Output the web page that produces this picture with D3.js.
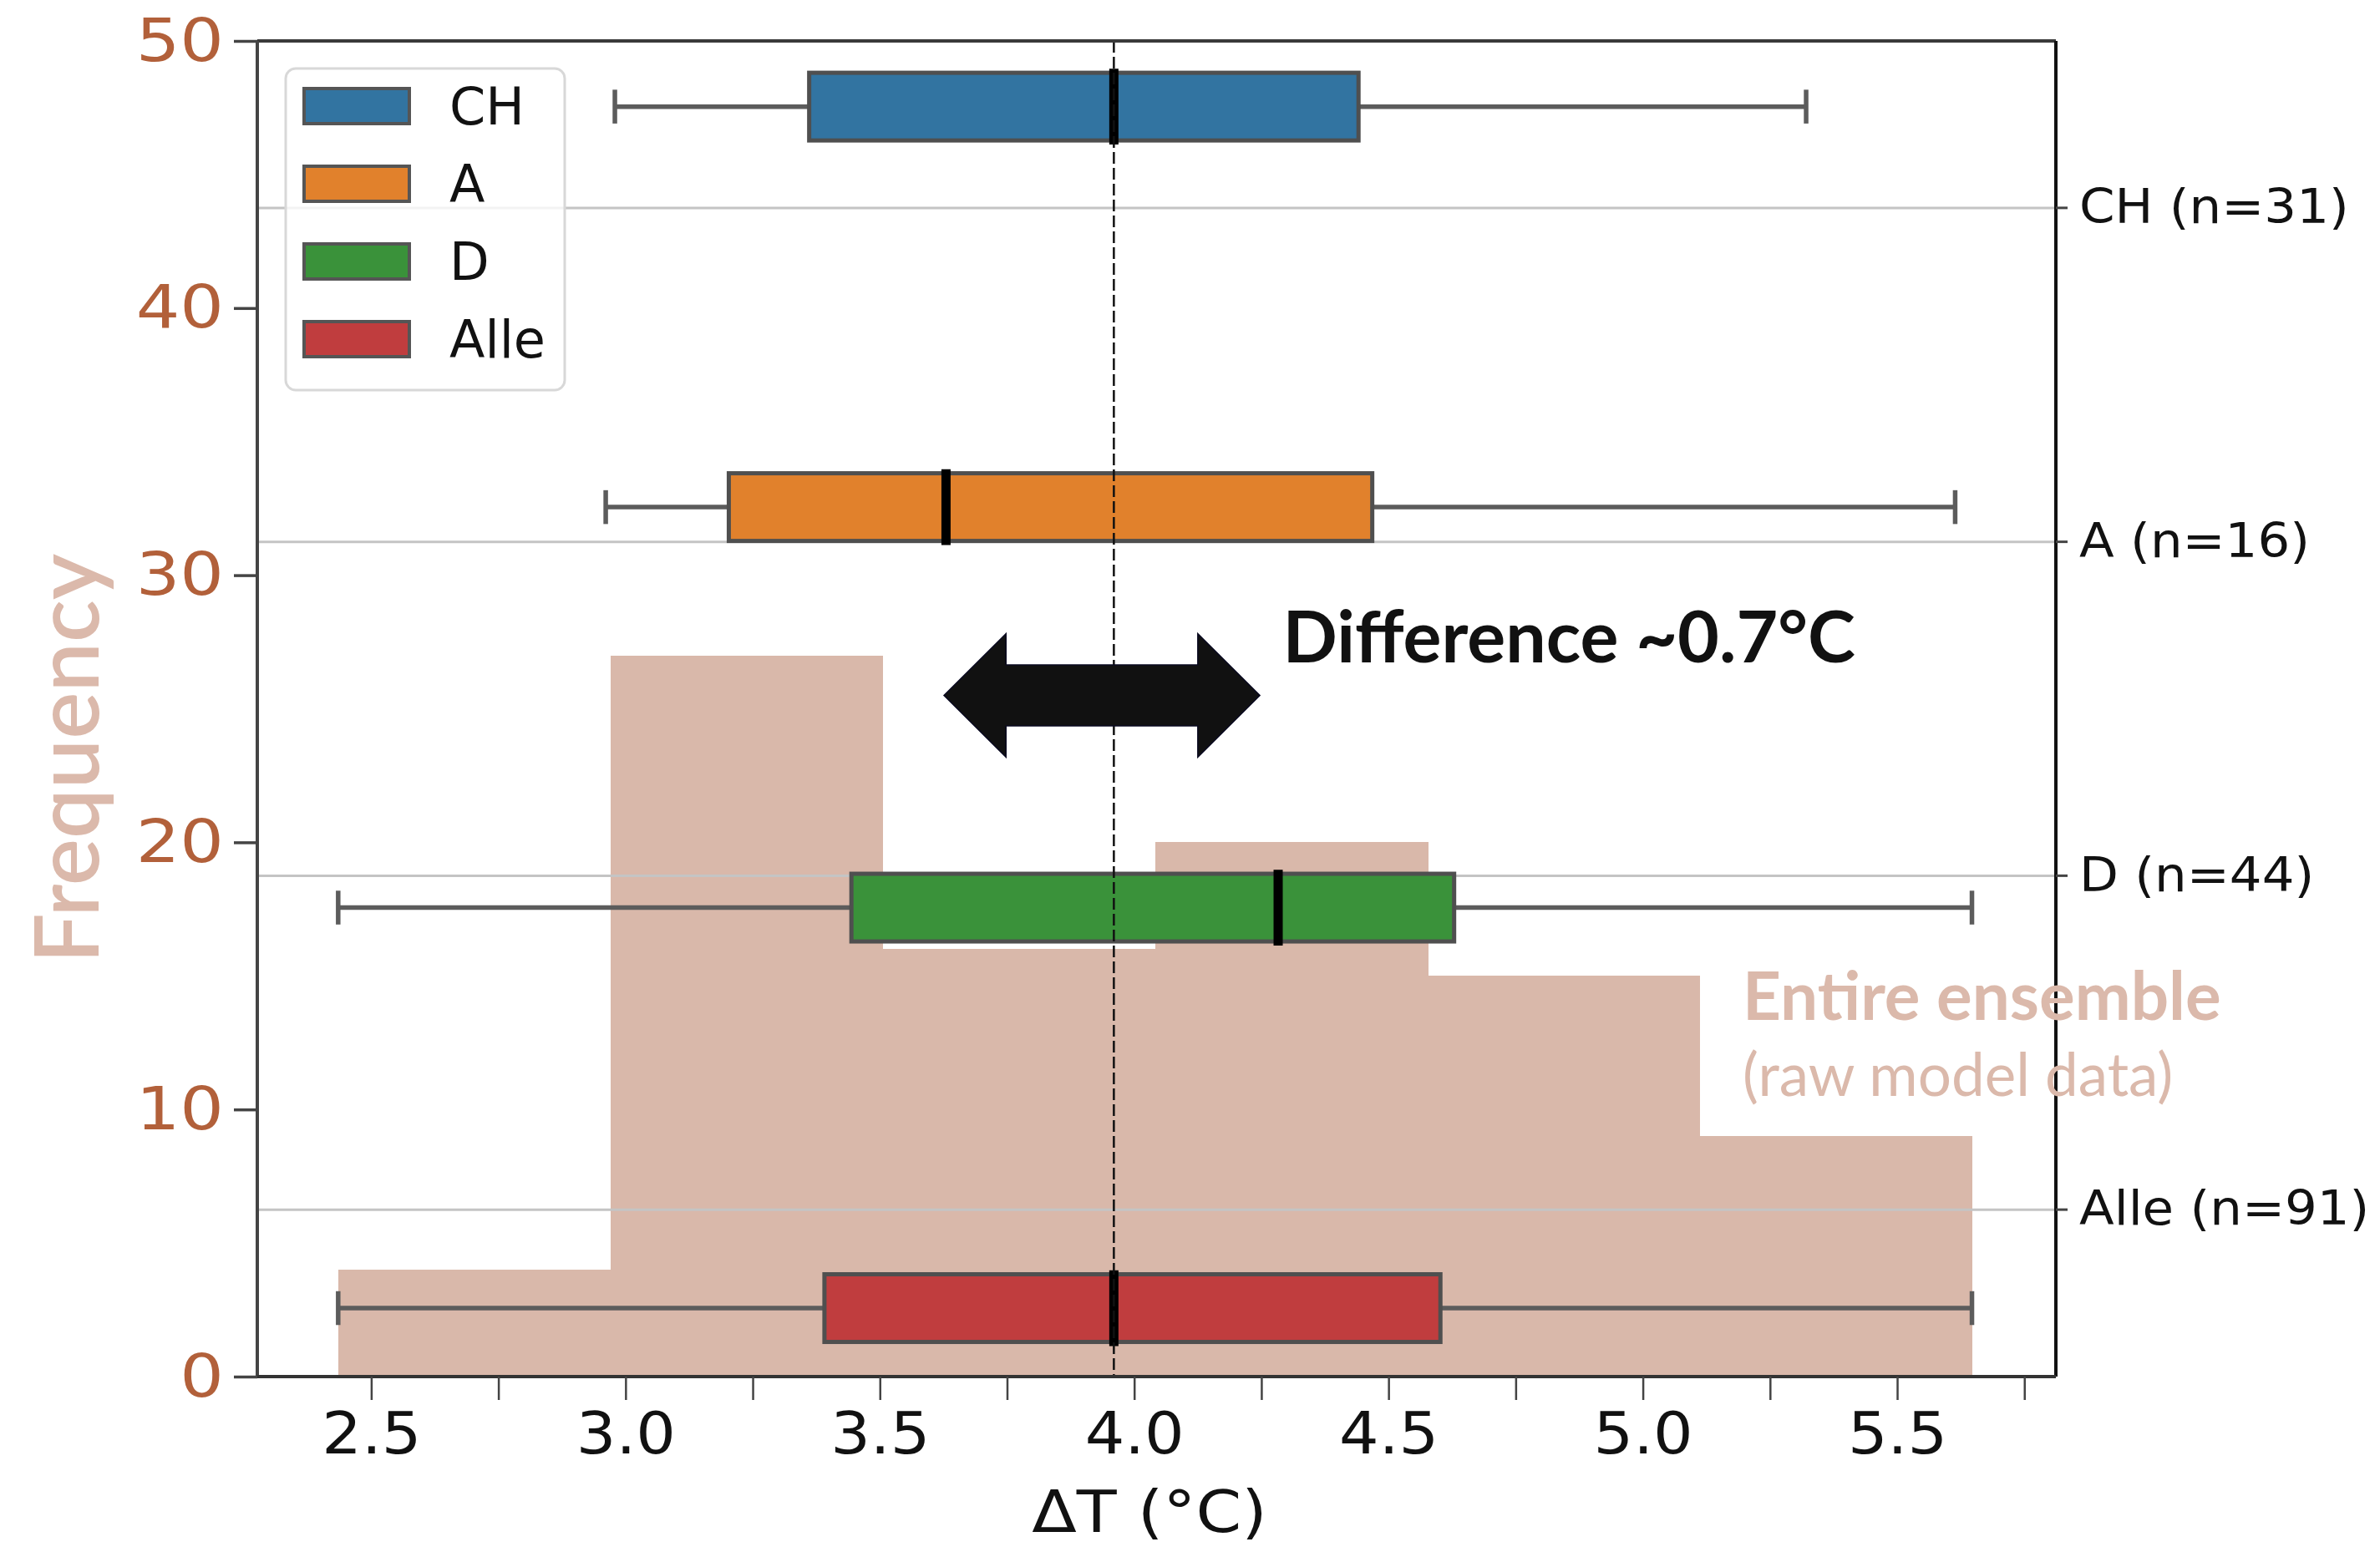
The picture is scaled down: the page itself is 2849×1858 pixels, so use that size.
<!DOCTYPE html>
<html><head><meta charset="utf-8">
<script src="https://cdn.jsdelivr.net/npm/d3@7"></script>
<style>body{margin:0;background:#fff;} svg text{font-family:"DejaVu Sans",sans-serif;}</style>
</head><body><svg id="c" width="2849" height="1858"></svg>
<script>
// ---- data ----
const categories = ["CH", "A", "D", "Alle"];
const counts = [31, 16, 44, 91];
const boxColors = ["#3274a1", "#e1812c", "#3a923a", "#c03d3e"];
const whiskerLow = [2.979, 2.961, 2.435, 2.435];
const q1 = [3.361, 3.203, 3.444, 3.391];
const median = [3.960, 3.630, 4.283, 3.960];
const q3 = [4.441, 4.468, 4.629, 4.602];
const whiskerHigh = [5.321, 5.614, 5.647, 5.647];
const binEdges = [2.435, 2.970, 3.506, 4.041, 4.577, 5.112, 5.647];
const binCounts = [4, 27, 16, 20, 15, 9];
const yTicks = [0, 10, 20, 30, 40, 50];
const xTicks = [2.5, 3.0, 3.5, 4.0, 4.5, 5.0, 5.5];
const xMinorTicks = [2.75, 3.25, 3.75, 4.25, 4.75, 5.25, 5.75];
const refLine = 3.960;
const arrowFrom = 3.626, arrowTo = 4.247, arrowY = 25.5;

// ---- layout ----
const L = 308, R = 2461, T = 49, B = 1648;
const svg = d3.select("#c");
const x = d3.scaleLinear([2.276, 5.812], [L, R]);
const y = d3.scaleLinear([0, 50], [B, T]);
const yBox = d3.scaleLinear([-0.164, 3.171], [T, B]);
const labels = categories.map((c, i) => `${c} (n=${counts[i]})`);
const yCat = d3.scaleBand(labels, [T, B]);
const boxW = 0.169;

const bins = binCounts.map((c, i) => ({x0: binEdges[i], x1: binEdges[i + 1], c}));

// histogram
svg.append("g").attr("shape-rendering", "crispEdges").selectAll("rect").data(bins).join("rect")
  .attr("x", d => x(d.x0)).attr("width", d => x(d.x1) - x(d.x0) + 0.5)
  .attr("y", d => y(d.c)).attr("height", d => y(0) - y(d.c))
  .attr("fill", "#d9b8aa");

// gridlines of category axis
svg.append("g").selectAll("line").data(labels).join("line")
  .attr("x1", L).attr("x2", R)
  .attr("y1", d => yCat(d) + yCat.bandwidth() / 2).attr("y2", d => yCat(d) + yCat.bandwidth() / 2)
  .attr("stroke", "#c4c4c4").attr("stroke-width", 3);

// boxplots
const boxes = categories.map((c, i) => ({c, i, lo: whiskerLow[i], q1: q1[i], med: median[i], q3: q3[i], hi: whiskerHigh[i], color: boxColors[i]}));
const bg = svg.append("g").selectAll("g").data(boxes).join("g");
const lineCol = "#5c5c5c";
bg.append("line").attr("x1", d => x(d.lo)).attr("x2", d => x(d.q1))
  .attr("y1", d => yBox(d.i)).attr("y2", d => yBox(d.i)).attr("stroke", lineCol).attr("stroke-width", 5.5);
bg.append("line").attr("x1", d => x(d.q3)).attr("x2", d => x(d.hi))
  .attr("y1", d => yBox(d.i)).attr("y2", d => yBox(d.i)).attr("stroke", lineCol).attr("stroke-width", 5.5);
bg.append("line").attr("x1", d => x(d.lo)).attr("x2", d => x(d.lo))
  .attr("y1", d => yBox(d.i - boxW / 4)).attr("y2", d => yBox(d.i + boxW / 4)).attr("stroke", lineCol).attr("stroke-width", 5.5);
bg.append("line").attr("x1", d => x(d.hi)).attr("x2", d => x(d.hi))
  .attr("y1", d => yBox(d.i - boxW / 4)).attr("y2", d => yBox(d.i + boxW / 4)).attr("stroke", lineCol).attr("stroke-width", 5.5);
bg.append("rect").attr("x", d => x(d.q1)).attr("width", d => x(d.q3) - x(d.q1))
  .attr("y", d => yBox(d.i - boxW / 2)).attr("height", d => yBox(d.i + boxW / 2) - yBox(d.i - boxW / 2))
  .attr("fill", d => d.color).attr("stroke", "#4f4f4f").attr("stroke-width", 5);

// reference dashed line
svg.append("line").attr("x1", x(refLine)).attr("x2", x(refLine)).attr("y1", T).attr("y2", B)
  .attr("stroke", "#111").attr("stroke-width", 2.5).attr("stroke-dasharray", "14,5");

// medians
bg.append("line").attr("x1", d => x(d.med)).attr("x2", d => x(d.med))
  .attr("y1", d => yBox(d.i - boxW * 0.56)).attr("y2", d => yBox(d.i + boxW * 0.56))
  .attr("stroke", "#000").attr("stroke-width", 11);

// double arrow
const hl = 0.122, sh = 1.14, hh = 2.31;
const ap = [
  [arrowFrom, arrowY], [arrowFrom + hl, arrowY + hh], [arrowFrom + hl, arrowY + sh],
  [arrowTo - hl, arrowY + sh], [arrowTo - hl, arrowY + hh], [arrowTo, arrowY],
  [arrowTo - hl, arrowY - hh], [arrowTo - hl, arrowY - sh], [arrowFrom + hl, arrowY - sh],
  [arrowFrom + hl, arrowY - hh]
];
svg.append("polygon").attr("points", ap.map(p => [x(p[0]), y(p[1])].join(",")).join(" "))
  .attr("fill", "#111111").attr("stroke", "#0a0a20").attr("stroke-width", 1.5);

svg.append("text").attr("x", x(4.292)).attr("y", y(26.75))
  .style("font-family", "Lato").style("font-weight", "bold").style("font-size", "86px")
  .attr("fill", "#111").text("Difference ~0.7°C");

// spines
const sp = svg.append("g").attr("stroke-width", 4);
sp.append("line").attr("x1", L).attr("x2", R).attr("y1", T).attr("y2", T).attr("stroke", "#3a3a3a");
sp.append("line").attr("x1", L).attr("x2", L).attr("y1", T).attr("y2", B).attr("stroke", "#444");
sp.append("line").attr("x1", R).attr("x2", R).attr("y1", T).attr("y2", B).attr("stroke", "#111");
sp.append("line").attr("x1", L).attr("x2", R).attr("y1", B).attr("y2", B).attr("stroke", "#333");

// left y axis
const ya = svg.append("g").attr("transform", `translate(${L},0)`)
  .call(d3.axisLeft(y).tickValues(yTicks).tickSize(28).tickPadding(14));
ya.select(".domain").remove();
ya.selectAll(".tick line").attr("stroke", "#444").attr("stroke-width", 3.5);
ya.selectAll(".tick text").attr("fill", "#b2603a").style("font-size", "72px")
  .attr("x", -40 / 1.15).attr("transform", "scale(1.15,1)");

// bottom x axis
const xa = svg.append("g").attr("transform", `translate(0,${B})`)
  .call(d3.axisBottom(x).tickValues(xTicks.concat(xMinorTicks)).tickSize(28).tickPadding(14)
    .tickFormat(d => xTicks.includes(d) ? d3.format(".1f")(d) : ""));
xa.select(".domain").remove();
xa.selectAll(".tick line").attr("stroke", "#444").attr("stroke-width", 2.5);
xa.selectAll(".tick text").attr("fill", "#111").style("font-size", "70px").attr("transform", "scale(1.07,1)");

const xlabX = x(4.03);
svg.append("text").attr("x", xlabX).attr("y", 1834).attr("text-anchor", "middle")
  .attr("transform", `translate(${xlabX * -0.12},0) scale(1.12,1)`)
  .style("font-size", "70px").attr("fill", "#111").text("ΔT (°C)");

// right category axis
const ra = svg.append("g").attr("transform", `translate(${R},0)`)
  .call(d3.axisRight(yCat).tickSize(14).tickPadding(14));
ra.select(".domain").remove();
ra.selectAll(".tick line").attr("stroke", "#444").attr("stroke-width", 3);
ra.selectAll(".tick text").attr("fill", "#111").style("font-size", "57px")
  .attr("x", 28 / 1.07).attr("transform", "scale(1.07,1)");

// y label
svg.append("text").attr("transform", `translate(118,908) rotate(-90)`).attr("text-anchor", "middle")
  .style("font-family", "Lato").style("font-weight", "600").style("font-size", "106px")
  .attr("fill", "#dbb9ab").text("Frequency");

// ensemble annotation
svg.append("text").attr("x", 2086).attr("y", 1221)
  .style("font-family", "Lato").style("font-weight", "bold").style("font-size", "80px")
  .attr("fill", "#dbb9ab").text("Entire ensemble");
svg.append("text").attr("x", 2086).attr("y", 1312)
  .style("font-family", "Lato").style("font-size", "71px")
  .attr("fill", "#dbb9ab").text("(raw model data)");

// legend
const lg = svg.append("g");
lg.append("rect").attr("x", 342).attr("y", 82).attr("width", 334).attr("height", 385).attr("rx", 12)
  .attr("fill", "#fff").attr("fill-opacity", 0.8).attr("stroke", "#d8d8d8").attr("stroke-width", 3);
const li = lg.selectAll("g").data(categories).join("g")
  .attr("transform", (d, i) => `translate(0,${127 + i * 93})`);
li.append("rect").attr("x", 364).attr("y", -21).attr("width", 126).attr("height", 42)
  .attr("fill", (d, i) => boxColors[i]).attr("stroke", "#555").attr("stroke-width", 4);
li.append("text").attr("x", 538).attr("y", 0).attr("dy", "0.36em")
  .style("font-size", "62px").attr("fill", "#111").text(d => d);
</script></body></html>
